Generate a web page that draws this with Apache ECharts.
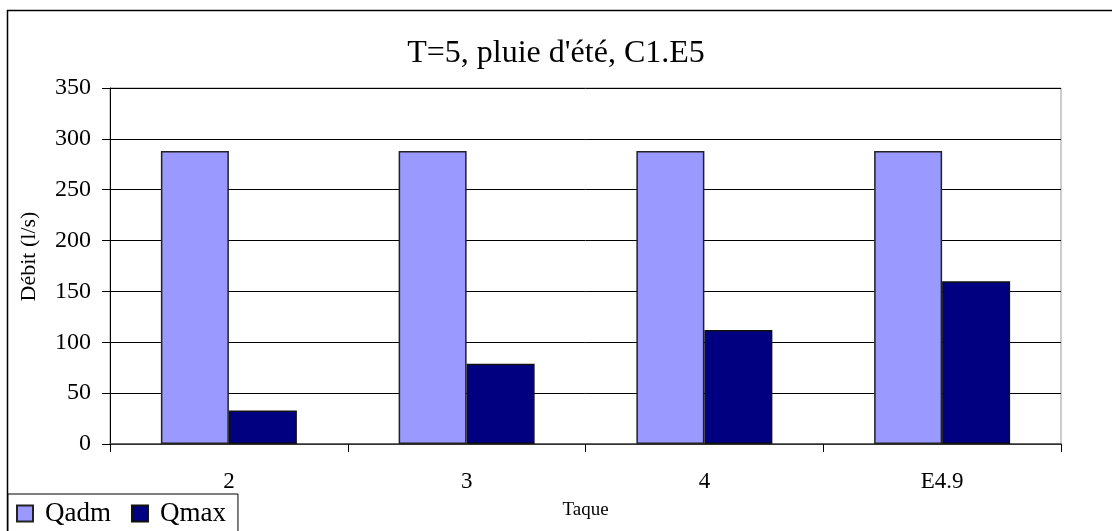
<!DOCTYPE html>
<html>
<head>
<meta charset="utf-8">
<script src="https://cdn.jsdelivr.net/npm/echarts@6/dist/echarts.min.js"></script>
<style>
	html, body { margin: 0; padding: 0; background: #fff; }
	#chart { width: 1112px; height: 531px; }
</style>
</head>
<body>
<div id="chart"></div>
<script>
'use strict';
var categories = ['2', '3', '4', 'E4.9'],
		qadm = [288, 288, 288, 288],
		qmax = [33, 79, 112, 160],
		fontFam = '"Liberation Serif", "Times New Roman", serif';

var chart = echarts.init(document.getElementById('chart'));

var option = {
	backgroundColor: '#fff',
	animation: false,
	textStyle: { fontFamily: fontFam, color: '#000' },
	title: {
		text: "T=5, pluie d'été, C1.E5",
		left: 'center',
		top: 33,
		textStyle: { fontFamily: fontFam, fontSize: 32, fontWeight: 'normal', color: '#000' }
	},
	graphic: [
		{
			type: 'rect',
			shape: { x: 7.5, y: 10.5, width: 1200, height: 600 },
			style: { fill: 'none', stroke: '#000', lineWidth: 1.5 },
			z: -1
		}
	],
	legend: {
		left: 8,
		top: 494,
		itemWidth: 16,
		itemHeight: 16,
		itemGap: 20,
		padding: [6, 12, 12, 8],
		backgroundColor: '#fff',
		borderColor: '#000',
		borderWidth: 1,
		icon: 'rect',
		textStyle: { fontFamily: fontFam, fontSize: 27, color: '#000', padding: [0, 0, 0, 7] },
		data: ['Qadm', 'Qmax']
	},
	grid: {
		left: 110,
		right: 51,
		top: 88,
		bottom: 87,
		show: true,
		borderColor: '#999',
		borderWidth: 1
	},
	xAxis: {
		type: 'category',
		data: categories,
		name: 'Taque',
		nameLocation: 'middle',
		nameGap: 57,
		nameTextStyle: { fontFamily: fontFam, fontSize: 19, color: '#000' },
		axisLine: { lineStyle: { color: '#444', width: 1.5 } },
		axisTick: { show: true, length: 8, lineStyle: { color: '#000' } },
		axisLabel: { fontFamily: fontFam, fontSize: 23, color: '#000', margin: 26 }
	},
	yAxis: {
		type: 'value',
		min: 0,
		max: 350,
		interval: 50,
		name: 'Débit (l/s)',
		nameLocation: 'middle',
		nameGap: 70,
		nameTextStyle: { fontFamily: fontFam, fontSize: 22, color: '#000', padding: [0, 0, 0, 19] },
		axisLine: { show: true, lineStyle: { color: '#000', width: 1 } },
		axisTick: { show: true, length: 8, lineStyle: { color: '#000' } },
		axisLabel: { fontFamily: fontFam, fontSize: 24, color: '#000', margin: 19 },
		splitLine: { show: true, lineStyle: { color: '#000', width: 1 } }
	},
	series: [
		{
			name: 'Qadm',
			type: 'bar',
			data: qadm,
			barWidth: 68,
			barGap: '0%',
			itemStyle: { color: '#9999FF', borderColor: '#222', borderWidth: 1.5 }
		},
		{
			name: 'Qmax',
			type: 'bar',
			data: qmax,
			barWidth: 68,
			barGap: '0%',
			itemStyle: { color: '#000080', borderColor: '#111', borderWidth: 1.5 }
		}
	]
};

chart.setOption(option);
</script>
</body>
</html>
